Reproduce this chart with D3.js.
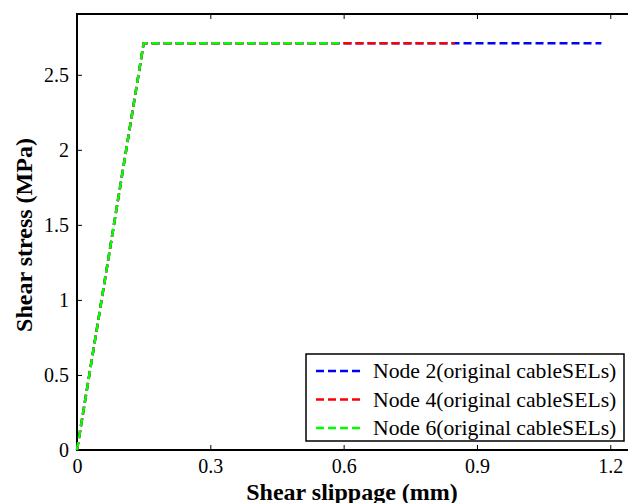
<!DOCTYPE html>
<html lang="en">
<head>
<meta charset="UTF-8">
<title>Shear stress vs slippage</title>
<style>
  body { margin: 0; background: #fff; }
  svg { display: block; font-family: "Liberation Serif", "Times New Roman", serif; }
  .tick text { font-size: 20px; fill: #000; font-family: "Liberation Serif", "Times New Roman", serif; }
</style>
</head>
<body>
<div id="chart"></div>
<script src="https://d3js.org/d3.v7.min.js"></script>
<script>
// series: [slippage mm, stress MPa]
const node2 = [[0, 0], [0.15, 2.71], [1.18, 2.71]];
const node4 = [[0, 0], [0.15, 2.71], [0.85, 2.71]];
const node6 = [[0, 0], [0.15, 2.71], [0.59, 2.71]];
const seriesNames = ["Node 2(original cableSELs)", "Node 4(original cableSELs)", "Node 6(original cableSELs)"];
const seriesColors = ["#0000ff", "#ff0000", "#00ff00"];
const xTicks = [0, 0.3, 0.6, 0.9, 1.2];
const yTicks = [0, 0.5, 1, 1.5, 2, 2.5];

const W = 628, H = 503;
const mLeft = 77, mTop = 14, mBottom = 450;
const serif = '"Liberation Serif", "Times New Roman", serif';

const svg = d3.select("#chart").append("svg")
    .attr("width", W).attr("height", H);

const x = d3.scaleLinear().domain([0, 1.25]).range([mLeft, mLeft + 1.25 * 444.4]);
const y = d3.scaleLinear().domain([0, 2.905]).range([mBottom, mTop]);

// axes box
const x1 = x(1.25);
svg.append("rect")
    .attr("x", mLeft).attr("y", mTop)
    .attr("width", x1 - mLeft).attr("height", mBottom - mTop)
    .attr("fill", "none").attr("stroke", "#000").attr("stroke-width", 2);

// bottom axis
svg.append("g")
    .attr("transform", `translate(0,${mBottom})`)
    .call(d3.axisBottom(x).tickValues(xTicks).tickSizeInner(-5).tickSizeOuter(0).tickPadding(9)
        .tickFormat(d => d === 0 ? "0" : d3.format(".1f")(d)))
    .attr("font-family", serif).attr("font-size", 20)
    .call(g => g.select(".domain").remove());

// top ticks
svg.append("g")
    .attr("transform", `translate(0,${mTop})`)
    .call(d3.axisTop(x).tickValues(xTicks).tickSizeInner(-5).tickSizeOuter(0).tickFormat(""))
    .call(g => g.select(".domain").remove());

// left axis
svg.append("g")
    .attr("transform", `translate(${mLeft},0)`)
    .call(d3.axisLeft(y).tickValues(yTicks).tickSizeInner(-5).tickSizeOuter(0).tickPadding(8)
        .tickFormat(d => d3.format("")(d)))
    .attr("font-family", serif).attr("font-size", 20)
    .call(g => g.select(".domain").remove());

// lines
const line = d3.line().x(d => x(d[0])).y(d => y(d[1]));
[node2, node4, node6].forEach((s, i) => {
    svg.append("path")
        .datum(s)
        .attr("d", line)
        .attr("fill", "none")
        .attr("stroke", seriesColors[i])
        .attr("stroke-width", 2.5)
        .attr("stroke-dasharray", "8,4");
});

// legend
const lg = svg.append("g");
lg.append("rect")
    .attr("x", 306).attr("y", 354).attr("width", 318).attr("height", 87)
    .attr("fill", "#fff").attr("stroke", "#000").attr("stroke-width", 1.5);
seriesNames.forEach((name, i) => {
    const yy = 371 + i * 28.5;
    lg.append("line")
        .attr("x1", 316).attr("x2", 363).attr("y1", yy).attr("y2", yy)
        .attr("stroke", seriesColors[i]).attr("stroke-width", 2.5)
        .attr("stroke-dasharray", "8,4");
    lg.append("text")
        .attr("x", 373).attr("y", yy + 7)
        .attr("font-size", 21.7)
        .text(name);
});

// axis titles
svg.append("text")
    .attr("x", 352).attr("y", 500)
    .attr("text-anchor", "middle")
    .attr("font-size", 24).attr("font-weight", "bold")
    .text("Shear slippage (mm)");

svg.append("text")
    .attr("transform", `translate(32,235) rotate(-90)`)
    .attr("text-anchor", "middle")
    .attr("font-size", 24).attr("font-weight", "bold")
    .text("Shear stress (MPa)");
</script>
</body>
</html>
